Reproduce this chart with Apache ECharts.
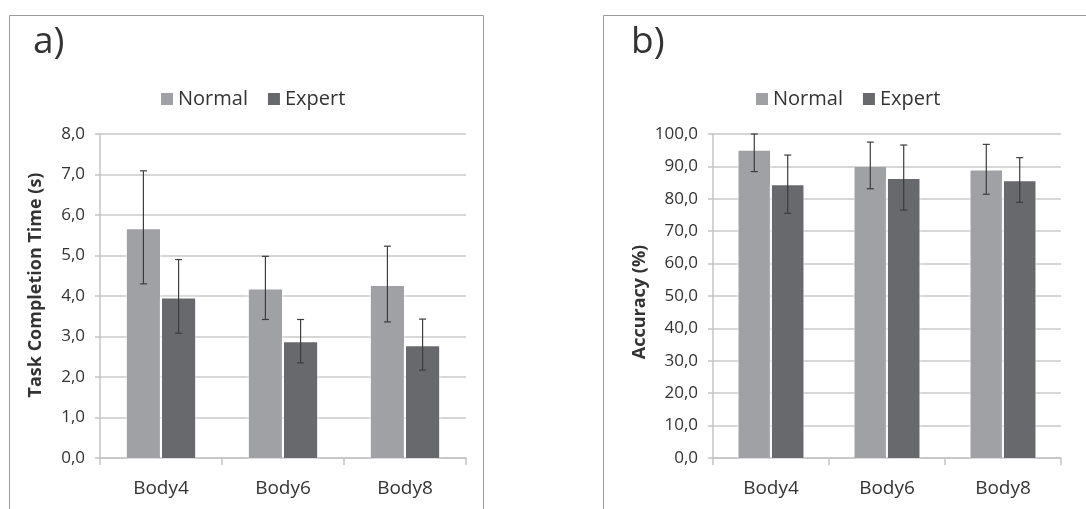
<!DOCTYPE html>
<html><head><meta charset="utf-8">
<script src="https://cdn.jsdelivr.net/npm/echarts@6/dist/echarts.min.js"></script>
<style>html,body{margin:0;padding:0;background:#fff}#c{width:1086px;height:509px}</style>
</head><body><div id="c"></div>
<script>
const categories = ['Body4', 'Body6', 'Body8'];
const seriesNames = ['Normal', 'Expert'];
// Panel a) Task completion time (s)
const timeNormal = [5.65, 4.16, 4.25];
const timeNormalLow = [4.30, 3.42, 3.36];
const timeNormalHigh = [7.09, 4.98, 5.23];
const timeExpert = [3.94, 2.86, 2.76];
const timeExpertLow = [3.08, 2.35, 2.17];
const timeExpertHigh = [4.90, 3.42, 3.43];
// Panel b) Accuracy (%)
const accNormal = [94.8, 89.9, 88.7];
const accNormalLow = [88.4, 83.1, 81.4];
const accNormalHigh = [100.0, 97.5, 96.8];
const accExpert = [84.2, 86.1, 85.4];
const accExpertLow = [75.5, 76.5, 78.9];
const accExpertHigh = [93.5, 96.6, 92.7];
const timeTicks = {min: 0, max: 8, interval: 1};
const accTicks = {min: 0, max: 100, interval: 10};

const COL_N = '#a0a1a4', COL_E = '#68696d', TXT = '#333333', FONT = 'Open Sans';
const CAT_GAP = 0.44, BAR_GAP = 0.06;

function errSeries(name, xi, low, high, side) {
  return {
    type: 'custom', name: name, xAxisIndex: xi, yAxisIndex: xi, z: 5,
    data: categories.map((c, i) => [i, low[i], high[i]]),
    renderItem: function (params, api) {
      const band = api.size([1, 0])[0];
      const bw = band * (1 - CAT_GAP) / (2 + BAR_GAP);
      const off = side * bw * (1 + BAR_GAP) / 2;
      const lo = api.coord([api.value(0), api.value(1)]);
      const hi = api.coord([api.value(0), api.value(2)]);
      const x = lo[0] + off, cap = 3.5;
      const st = {stroke: '#3c3c3c', lineWidth: 1.2};
      return {type: 'group', children: [
        {type: 'line', shape: {x1: x, y1: lo[1], x2: x, y2: hi[1]}, style: st},
        {type: 'line', shape: {x1: x - cap, y1: lo[1], x2: x + cap, y2: lo[1]}, style: st},
        {type: 'line', shape: {x1: x - cap, y1: hi[1], x2: x + cap, y2: hi[1]}, style: st}
      ]};
    },
    tooltip: {show: false}
  };
}
function barSeries(name, xi, data, color) {
  return {
    type: 'bar', name: name, xAxisIndex: xi, yAxisIndex: xi, data: data,
    barCategoryGap: (CAT_GAP * 100) + '%', barGap: (BAR_GAP * 100) + '%',
    itemStyle: {color: color, shadowColor: '#ffffff', shadowBlur: 4},
    z: 2
  };
}
function xAx(gi) {
  return {
    type: 'category', gridIndex: gi, data: categories,
    axisLine: {lineStyle: {color: '#c4c4c4', width: 1.5}},
    axisTick: {show: true, length: 7, lineStyle: {color: '#c4c4c4', width: 1.5}},
    axisLabel: {color: TXT, fontSize: 19, fontFamily: FONT, margin: 21}
  };
}
function yAx(gi, t, name, gap, pad) {
  return {
    type: 'value', gridIndex: gi, min: t.min, max: t.max, interval: t.interval,
    name: name, nameLocation: 'middle', nameGap: gap,
    nameTextStyle: {color: TXT, fontSize: 18, fontWeight: 'bold', fontFamily: FONT, padding: pad},
    axisLine: {show: true, lineStyle: {color: '#c4c4c4', width: 1.5}},
    axisTick: {show: true, length: 5, lineStyle: {color: '#c4c4c4', width: 1.5}},
    splitLine: {lineStyle: {color: '#c8c8c8', width: 1.5}},
    axisLabel: {color: TXT, fontSize: 17, fontFamily: FONT, margin: 15,
      formatter: v => v.toFixed(1).replace('.', ',')}
  };
}
const legendBase = {icon: 'rect', itemWidth: 12, itemHeight: 12, itemGap: 20,
  textStyle: {color: TXT, fontSize: 20, fontFamily: FONT}, data: seriesNames, selectedMode: false};

const chart = echarts.init(document.getElementById('c'), null, {renderer: 'canvas'});
chart.setOption({
  animation: false,
  backgroundColor: '#fff',
  graphic: [
    {type: 'rect', shape: {x: 9.5, y: 15.5, width: 474, height: 520}, style: {fill: 'none', stroke: '#9a9a9a', lineWidth: 1}, z: -10},
    {type: 'rect', shape: {x: 603.5, y: 15.5, width: 520, height: 520}, style: {fill: 'none', stroke: '#9a9a9a', lineWidth: 1}, z: -10}
  ],
  title: [
    {text: 'a)', left: 28, top: 19, textStyle: {color: TXT, fontSize: 37, fontWeight: 'normal', fontFamily: FONT}},
    {text: 'b)', left: 626, top: 19, textStyle: {color: TXT, fontSize: 37, fontWeight: 'normal', fontFamily: FONT}}
  ],
  legend: [
    Object.assign({left: 156, top: 84}, legendBase),
    Object.assign({left: 751, top: 84}, legendBase)
  ],
  grid: [
    {left: 100, right: 620, top: 134, bottom: 51},
    {left: 713, right: 25, top: 134, bottom: 51}
  ],
  xAxis: [xAx(0), xAx(1)],
  yAxis: [yAx(0, timeTicks, 'Task Completion Time (s)', 55, [0, 0, 0, 22]),
          yAx(1, accTicks, 'Accuracy (%)', 64, [0, 12, 0, 0])],
  series: [
    barSeries('Normal', 0, timeNormal, COL_N),
    barSeries('Expert', 0, timeExpert, COL_E),
    barSeries('Normal', 1, accNormal, COL_N),
    barSeries('Expert', 1, accExpert, COL_E),
    errSeries('Normal', 0, timeNormalLow, timeNormalHigh, -1),
    errSeries('Expert', 0, timeExpertLow, timeExpertHigh, 1),
    errSeries('Normal', 1, accNormalLow, accNormalHigh, -1),
    errSeries('Expert', 1, accExpertLow, accExpertHigh, 1)
  ]
});
</script></body></html>
